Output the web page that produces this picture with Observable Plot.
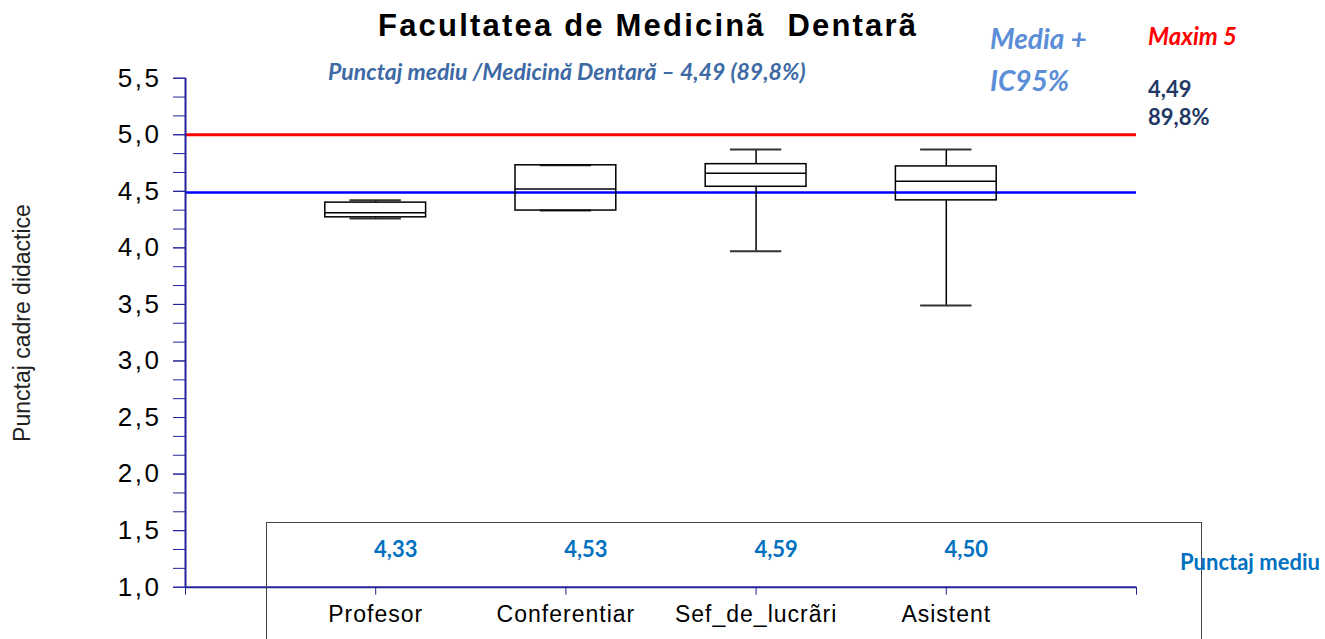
<!DOCTYPE html>
<html><head><meta charset="utf-8">
<script src="https://cdn.jsdelivr.net/npm/d3@7"></script>
<script src="https://cdn.jsdelivr.net/npm/@observablehq/plot@0.6"></script>
<style>
body{margin:0;background:#fff;}
#wrap{position:relative;width:1325px;height:639px;overflow:hidden;background:#fff;}
.ann{position:absolute;white-space:nowrap;line-height:1;}
#wrap svg{position:absolute;left:0;top:0;}
g[aria-label="y-axis tick label"] text{font-family:"Liberation Sans",Arial,sans-serif;font-size:26px;letter-spacing:2.5px;}
g[aria-label="x-axis tick label"] text{font-family:"Liberation Sans Narrow","Liberation Sans",Arial,sans-serif;font-size:23px;letter-spacing:1px;}
</style></head><body><div id="wrap"></div>
<script>
// ---- data ----
const categories = ["Profesor", "Conferentiar", "Sef_de_lucrãri", "Asistent"];
const whiskerLow  = [4.26, 4.33, 3.97, 3.49];
const q1          = [4.27, 4.33, 4.54, 4.42];
const median      = [4.31, 4.52, 4.66, 4.59];
const q3          = [4.40, 4.73, 4.74, 4.72];
const whiskerHigh = [4.42, 4.73, 4.87, 4.87];
const meanLabels  = ["4,33", "4,53", "4,59", "4,50"];
const overallMean = 4.49;
const maximumScore = 5;
const yTickLabels = [1, 1.5, 2, 2.5, 3, 3.5, 4, 4.5, 5, 5.5];

const rows = categories.map((c, i) => ({
  cat: c, pos: i + 1,
  lo: whiskerLow[i], q1: q1[i], med: median[i], q3: q3[i], hi: whiskerHigh[i],
  mean: meanLabels[i]
}));
const BOX = 0.265, CAP = 0.135;
const navy = "#22229a";
const minorTicks = d3.range(0, 28).map(i => 1 + i / 6);

const chart = Plot.plot({
  width: 1325, height: 639,
  marginLeft: 185, marginRight: 189, marginTop: 77.7, marginBottom: 52.3,
  style: {fontFamily: "Liberation Sans, Arial, sans-serif", color: "#000", background: "transparent"},
  x: {type: "linear", domain: [0, 5], label: null},
  y: {domain: [1, 5.5], label: null},
  marks: [
    Plot.ruleY([maximumScore], {stroke: "#ff0000", strokeWidth: 3}),
    Plot.ruleY([overallMean], {stroke: "#0000ff", strokeWidth: 2.5}),
    Plot.ruleX(rows, {x: "pos", y1: "lo", y2: "q1", stroke: "#000", strokeWidth: 1.5}),
    Plot.ruleX(rows, {x: "pos", y1: "q3", y2: "hi", stroke: "#000", strokeWidth: 1.5}),
    Plot.ruleY(rows, {y: "hi", x1: d => d.pos - CAP, x2: d => d.pos + CAP, stroke: "#333", strokeWidth: 2}),
    Plot.ruleY(rows, {y: "lo", x1: d => d.pos - CAP, x2: d => d.pos + CAP, stroke: "#333", strokeWidth: 2}),
    Plot.rect(rows, {x1: d => d.pos - BOX, x2: d => d.pos + BOX, y1: "q1", y2: "q3", fill: "none", stroke: "#000", strokeWidth: 1.5}),
    Plot.ruleY(rows, {y: "med", x1: d => d.pos - BOX, x2: d => d.pos + BOX, stroke: "#000", strokeWidth: 1.5}),
    Plot.text(rows, {x: "pos", text: "mean", frameAnchor: "bottom", dx: 20, dy: -30,
      fill: "#0070c0", fontWeight: "bold", fontSize: 22, fontFamily: "Lato, Carlito, sans-serif"}),
    Plot.axisY({ticks: minorTicks, tickSize: 12, tickFormat: () => "", stroke: navy, label: null}),
    Plot.axisY({ticks: yTickLabels, tickSize: 12, tickPadding: 12, stroke: navy, fill: "#000", label: null,
      tickFormat: d => d.toFixed(1).replace(".", ",")}),
    Plot.axisX({ticks: [0, 1, 2, 3, 4, 5], tickSize: 8, tickPadding: 10, stroke: navy, fill: "#000", label: null,
      tickFormat: d => categories[d - 1] ?? ""}),
    Plot.ruleX([0], {stroke: navy, strokeWidth: 2}),
    Plot.ruleY([1], {stroke: navy, strokeWidth: 2})
  ]
});
const wrap = document.getElementById("wrap");
wrap.appendChild(chart);

function ann(text, css) {
  const d = document.createElement("div");
  d.className = "ann";
  d.textContent = text;
  Object.assign(d.style, css);
  wrap.appendChild(d);
  return d;
}
// table frame at bottom
const frame = document.createElement("div");
Object.assign(frame.style, {position: "absolute", left: "266px", top: "522px", width: "936px", height: "200px",
  border: "1.5px solid #444", boxSizing: "border-box", pointerEvents: "none"});
wrap.appendChild(frame);

ann("Facultatea de Medicinã  Dentarã", {left: "378px", top: "10px", fontFamily: "Liberation Sans, Arial, sans-serif",
  fontWeight: "bold", fontSize: "31px", letterSpacing: "2.2px", whiteSpace: "pre", color: "#000"});
ann("Punctaj mediu /Medicină Dentară – 4,49 (89,8%)", {left: "328px", top: "60px", fontFamily: "Lato, sans-serif",
  fontWeight: "bold", fontStyle: "italic", fontSize: "23px", color: "#3d6aa5"});
ann("Media +", {left: "990px", top: "24px", fontFamily: "Lato, sans-serif", fontWeight: "bold", fontStyle: "italic",
  fontSize: "28px", color: "#5b8ed6"});
ann("IC95%", {left: "990px", top: "66px", fontFamily: "Lato, sans-serif", fontWeight: "bold", fontStyle: "italic",
  fontSize: "28px", color: "#5b8ed6"});
ann("Maxim 5", {left: "1148px", top: "24px", fontFamily: "Lato, sans-serif", fontWeight: "bold", fontStyle: "italic",
  fontSize: "24px", color: "#ff0000"});
ann("4,49", {left: "1148px", top: "78px", fontFamily: "Lato, sans-serif", fontWeight: "bold",
  fontSize: "22px", color: "#1f3864"});
ann("89,8%", {left: "1148px", top: "106px", fontFamily: "Lato, sans-serif", fontWeight: "bold",
  fontSize: "22px", color: "#1f3864"});
ann("Punctaj mediu", {left: "1180px", top: "551px", fontFamily: "Lato, sans-serif", fontWeight: "bold",
  fontSize: "22px", color: "#0070c0"});
ann("Punctaj cadre didactice", {left: "22px", top: "323px", fontFamily: "Liberation Sans, Arial, sans-serif",
  fontSize: "23px", color: "#222", transform: "translate(-50%,-50%) rotate(-90deg)"});
</script></body></html>
